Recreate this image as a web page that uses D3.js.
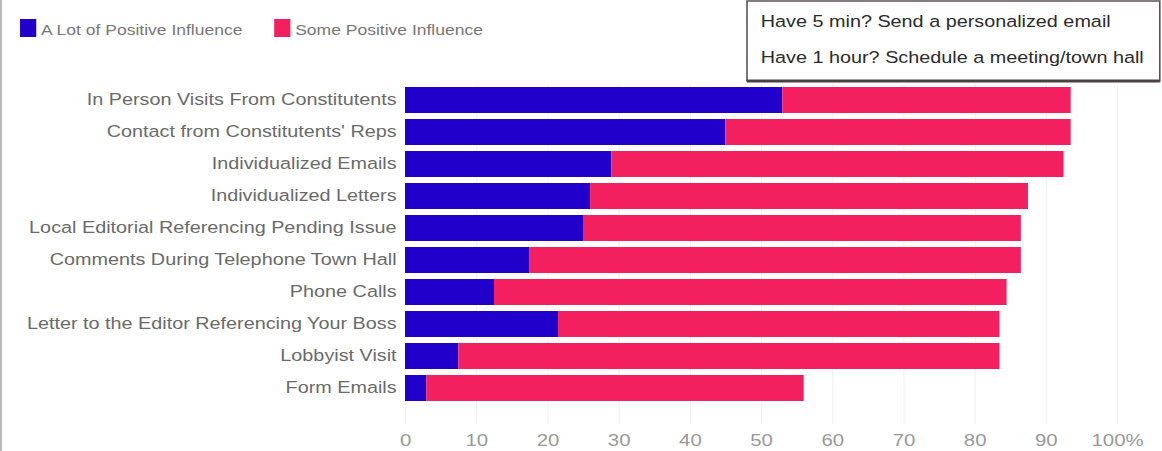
<!DOCTYPE html>
<html>
<head>
<meta charset="utf-8">
<script src="https://cdn.jsdelivr.net/npm/d3@7"></script>
<style>
  body { margin: 0; background: #fff; }
  svg { display: block; font-family: "Liberation Sans", Arial, sans-serif; }
</style>
</head>
<body>
<svg width="1162" height="451"></svg>
<script>
const categories = [
    'In Person Visits From Constitutents',
    'Contact from Constitutents\' Reps',
    'Individualized Emails',
    'Individualized Letters',
    'Local Editorial Referencing Pending Issue',
    'Comments During Telephone Town Hall',
    'Phone Calls',
    'Letter to the Editor Referencing Your Boss',
    'Lobbyist Visit',
    'Form Emails'
];
const aLot = [53, 45, 29, 26, 25, 17.5, 12.5, 21.5, 7.5, 3];
const some = [40.5, 48.5, 63.5, 61.5, 61.5, 69, 72, 62, 76, 53];
const seriesNames = ['A Lot of Positive Influence', 'Some Positive Influence'];
const xTicks = [0, 10, 20, 30, 40, 50, 60, 70, 80, 90, 100];
const noteLines = ['Have 5 min? Send a personalized email', 'Have 1 hour? Schedule a meeting/town hall'];

const colors = ['#2200cc', '#f41f5f'];

// the source picture is stretched sideways, so draw in a narrower space
const k = 1.2;
const width = 1162 / k;
const height = 451;

const svg = d3.select('svg')
    .attr('viewBox', `0 0 ${width} ${height}`)
    .attr('preserveAspectRatio', 'none');

const rows = categories.map((c, i) => ({ cat: c, aLot: aLot[i], some: some[i] }));
const stacked = d3.stack().keys(['aLot', 'some'])(rows);

const xScale = d3.scaleLinear()
    .domain([0, 100])
    .range([337.5, 930.8]);

const yScale = d3.scaleBand()
    .domain(categories)
    .range([84, 404])
    .paddingInner(0.1875)
    .paddingOuter(0.09375);

// left border of the screenshot
svg.append('line')
    .attr('x1', 0.8).attr('x2', 0.8)
    .attr('y1', 0).attr('y2', height)
    .attr('stroke', '#b8b8b8')
    .attr('stroke-width', 2)
    .attr('vector-effect', 'non-scaling-stroke');

// grid + x labels
const xAxisG = svg.append('g')
    .attr('transform', 'translate(0, 424)')
    .call(d3.axisBottom(xScale)
        .tickValues(xTicks)
        .tickFormat(d => d === 100 ? '100%' : d)
        .tickSize(-340)
        .tickPadding(10));

xAxisG.select('.domain').remove();
xAxisG.selectAll('.tick line')
    .attr('stroke', '#efefef')
    .attr('vector-effect', 'non-scaling-stroke');
xAxisG.selectAll('.tick text')
    .attr('fill', '#999')
    .style('font-size', '17px')
    .style('font-family', '"Liberation Sans", Arial, sans-serif');

// bars
svg.append('g').selectAll('g')
    .data(stacked)
    .enter().append('g')
    .attr('fill', (d, i) => colors[i])
    .selectAll('rect')
    .data(d => d)
    .enter().append('rect')
    .attr('x', d => xScale(d[0]))
    .attr('y', d => yScale(d.data.cat))
    .attr('width', d => xScale(d[1]) - xScale(d[0]))
    .attr('height', yScale.bandwidth());

// category labels
const yAxisG = svg.append('g')
    .attr('transform', `translate(${xScale(0)}, 0)`)
    .call(d3.axisLeft(yScale).tickSize(0).tickPadding(7));

yAxisG.select('.domain').remove();
yAxisG.selectAll('.tick text')
    .attr('fill', '#6a6a6a')
    .style('font-size', '16.5px')
    .style('font-family', '"Liberation Sans", Arial, sans-serif');

// legend
const legendX = [16.7, 228.5];
const legend = svg.append('g');
seriesNames.forEach((name, i) => {
    legend.append('rect')
        .attr('x', legendX[i])
        .attr('y', 19)
        .attr('width', 13.5)
        .attr('height', 18)
        .attr('fill', colors[i]);
    legend.append('text')
        .attr('x', legendX[i] + 17.5)
        .attr('y', 35)
        .attr('fill', '#777')
        .style('font-size', '14.6px')
        .text(name);
});

// note box
const note = svg.append('g');
note.append('rect')
    .attr('x', 622.5)
    .attr('y', 1)
    .attr('width', 344)
    .attr('height', 80)
    .attr('fill', '#fff')
    .attr('stroke', '#5e5356')
    .attr('stroke-width', 1.6)
    .attr('vector-effect', 'non-scaling-stroke');
note.append('line')
    .attr('x1', 622.5).attr('x2', 966.5)
    .attr('y1', 81).attr('y2', 81)
    .attr('stroke', '#4a4044')
    .attr('stroke-width', 3);
note.selectAll('text.note')
    .data(noteLines)
    .enter().append('text')
    .attr('class', 'note')
    .attr('x', 634)
    .attr('y', (d, i) => 27 + i * 36)
    .attr('fill', '#2b2b2b')
    .style('font-size', '16.5px')
    .text(d => d);
</script>
</body>
</html>
